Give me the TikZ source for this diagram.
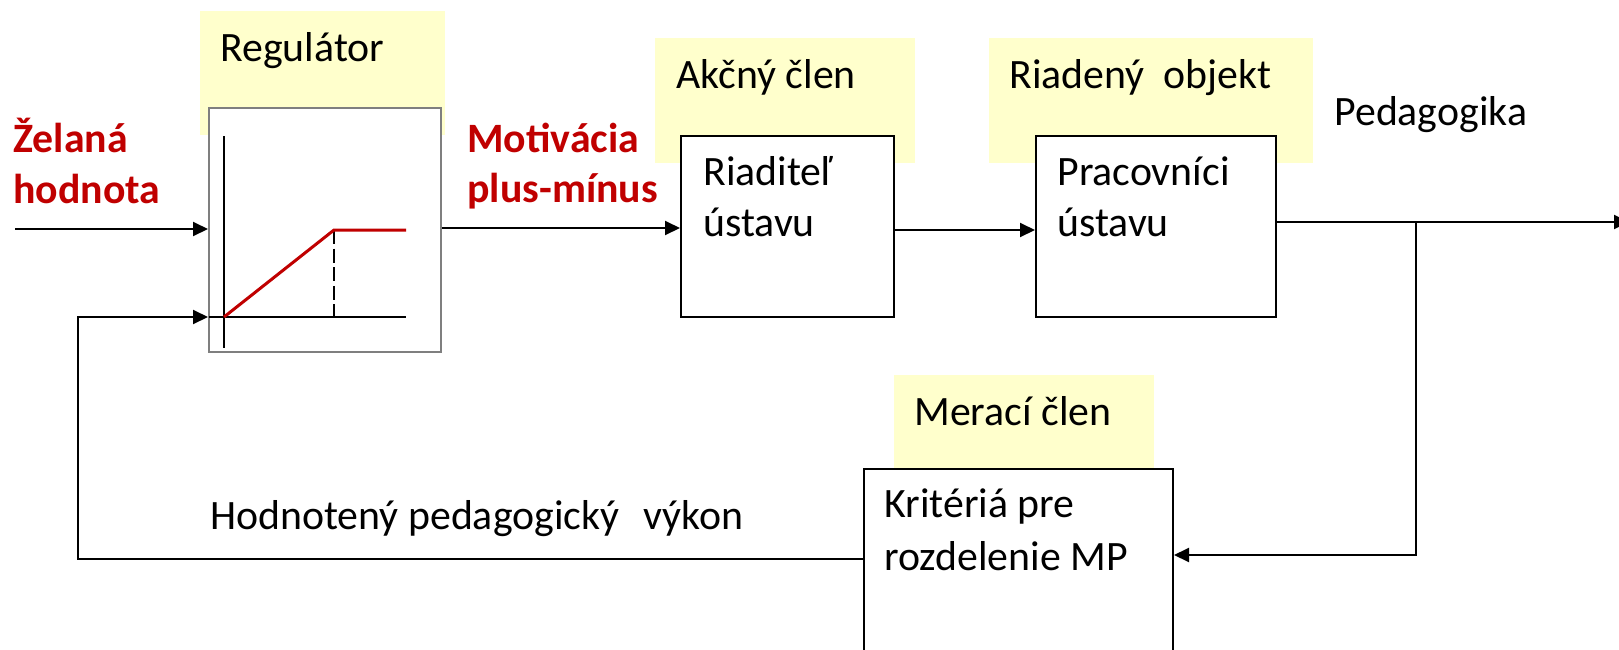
\documentclass[tikz,border=0pt]{standalone}
\usepackage{fontspec}
\setmainfont{Carlito}
\usetikzlibrary{arrows.meta,fit}
\definecolor{hlyellow}{HTML}{FFFFCC}
\definecolor{darkred}{HTML}{C00000}
\definecolor{boxgray}{HTML}{7F7F7F}
\begin{document}
\begin{tikzpicture}[x=0.5pt,y=-0.5pt,
  lbl/.style={inner sep=0pt, anchor=base west, font=\fontsize{20.9pt}{25.5pt}\selectfont},
  redlbl/.style={inner sep=0pt, anchor=base west, font=\fontsize{20.9pt}{25.5pt}\selectfont\bfseries, text=darkred},
  tag/.style={fill=hlyellow, draw=none, inner sep=0pt},
  blk/.style={draw=black, line width=1pt, fill=white, inner sep=0pt},
  conn/.style={line width=1pt, -{Triangle[length=7.5pt,width=7pt]}},
  wire/.style={line width=1pt}]
\useasboundingbox (0,0) rectangle (1619,649);
\clip (0,0) rectangle (1619,649);
% yellow tags
\node[tag, fit={(200,11) (445,135)}] (tagreg) {};
\node[tag, fit={(655,38) (915,163)}] (tagakc) {};
\node[tag, fit={(989,38) (1313,163)}] (tagobj) {};
\node[tag, fit={(894,375) (1154,468)}] (tagmer) {};
% blocks
\node[blk, draw=boxgray, fit={(209,108) (441,352)}] (reg) {};
\node[blk, fit={(681,136) (894,317)}] (riad) {};
\node[blk, fit={(1036,136) (1276,317)}] (prac) {};
\node[blk, fit={(864,469) (1173,720)}] (krit) {};
% texts
\node[lbl] (tRegulator) at (220,61) {Regulátor};
\node[lbl] (tAkcny) at (676,88) {Akčný člen};
\node[lbl] (tRiadeny) at (1009,88) {Riadený~~objekt};
\node[lbl] (tPedagogika) at (1334,125) {Pedagogika};
\node[lbl] (tMeraci) at (914,425) {Merací člen};
\node[lbl] (tRiaditel) at (703,185) {Riaditeľ};
\node[lbl] (tUstavuA) at (703,236) {ústavu};
\node[lbl] (tPracovnici) at (1057,185) {Pracovníci};
\node[lbl] (tUstavuB) at (1057,236) {ústavu};
\node[lbl] (tKriteria) at (884,517) {Kritériá pre};
\node[lbl] (tRozdelenie) at (884,570) {rozdelenie MP};
\node[lbl] (tHodnoteny) at (210,529) {Hodnotený pedagogický~\hspace{0.35em}výkon};
\node[redlbl] (tZelana) at (13,152) {Želaná};
\node[redlbl] (tHodnota) at (13,203) {hodnota};
\node[redlbl] (tMotivacia) at (467,152) {Motivácia};
\node[redlbl] (tPlusMinus) at (467,202) {plus-mínus};
% characteristic inside the regulator
\draw[wire] (224,136) -- (224,348);
\draw[wire] (209,317) -- (406,317);
\draw[wire, dash pattern=on 7pt off 2.3pt] (334,230) -- (334,317);
\draw[line width=1.5pt, darkred, line join=miter] (224,317) -- (334,230) -- (406,230);
% connectors
\coordinate (inS) at (15,229);
\coordinate (fbL) at (78,559);
\coordinate (fbT) at (78,317);
\coordinate (y228) at (0,228);
\coordinate (y230) at (0,230);
\coordinate (out) at (1629,222);
\coordinate (jn) at (1416,222);
\coordinate (kin) at (1416,555);
\draw[conn] (inS) -- (inS -| reg.west);
\draw[conn] (krit.west |- fbL) -- (fbL) -- (fbT) -- (fbT -| reg.west);
\draw[conn] (reg.east |- y228) -- (riad.west |- y228);
\draw[conn] (riad.east |- y230) -- (prac.west |- y230);
\draw[conn] (prac.east |- out) -- (out);
\draw[conn] (jn) -- (kin) -- (krit.east |- kin);
\end{tikzpicture}
\end{document}
